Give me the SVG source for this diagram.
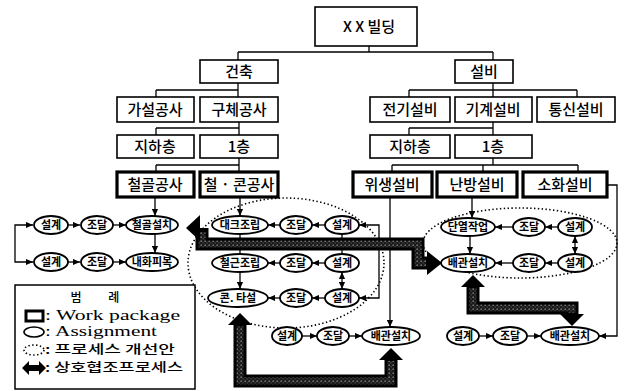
<svg xmlns="http://www.w3.org/2000/svg" width="628" height="391" viewBox="0 0 628 391">
  <style>
    .box { fill: #fff; stroke: #000; stroke-width: 1.6; }
    .wp { fill: #fff; stroke: #000; stroke-width: 3.2; }
    .as { fill: #fff; stroke: #000; stroke-width: 1.8; }
    .t { font-family: "Noto Sans CJK KR", "Noto Sans", sans-serif; font-size: 15px; font-weight: 500; text-anchor: middle; fill: #000; }
    .ta { font-family: "Noto Sans CJK KR", "Noto Sans", sans-serif; font-size: 11px; font-weight: 700; text-anchor: middle; fill: #000; }
    .ln { fill: none; stroke: #000; stroke-width: 1.3; }
    .arr { fill: none; stroke: #000; stroke-width: 1.3; marker-end: url(#ah); }
    .arr2 { fill: none; stroke: #000; stroke-width: 1.3; marker-start: url(#ah); marker-end: url(#ah); }
    .dot { fill: none; stroke: #000; stroke-width: 1.6; stroke-dasharray: 1.4 2.4; }
    .band { fill: none; stroke: #000; stroke-width: 13; stroke-linejoin: miter; }
    .bandin { fill: none; stroke: url(#tex); stroke-width: 7; stroke-linejoin: miter; }
    .head { fill: #000; }
    .leg { font-family: "Liberation Serif", serif; font-size: 14px; fill: #000; }
    .legk { font-family: "Noto Sans CJK KR", sans-serif; font-size: 12px; font-weight: 500; fill: #000; }
  </style>
  <defs>
    <marker id="ah" viewBox="0 0 8 8" refX="8" refY="4" markerWidth="7" markerHeight="7" markerUnits="userSpaceOnUse" orient="auto-start-reverse">
      <path d="M0,0.5 L8,4 L0,7.5 Z" fill="#000"/>
    </marker>
    <pattern id="tex" width="4" height="4" patternUnits="userSpaceOnUse">
      <rect width="4" height="4" fill="#1a1a1a"/>
      <rect x="0.5" y="0.5" width="1.4" height="1.4" fill="#8a8a8a"/>
      <rect x="2.6" y="2.4" width="1" height="1" fill="#666"/>
    </pattern>
  </defs>

  <rect width="628" height="391" fill="#fff"/>

  <!-- process improvement groupings (dotted) -->
  <g id="improvements">
    <ellipse class="dot" cx="286" cy="263" rx="98" ry="65"/>
    <ellipse class="dot" cx="520" cy="243" rx="97" ry="35"/>
  </g>

  <!-- connectors -->
  <g id="connectors">
    <!-- WBS tree -->
    <path class="ln" d="M369,46 V52 M238,52 H493 M238,52 V60 M493,52 V60"/>
    <path class="ln" d="M238,83 V97 M156,90 H238 M156,90 V97"/>
    <path class="ln" d="M493,83 V97 M409,90 H577 M409,90 V97 M577,90 V97"/>
    <path class="ln" d="M239,122 V135 M156,128 H239 M156,128 V135"/>
    <path class="ln" d="M493,122 V135 M409,128 H493 M409,128 V135"/>
    <path class="ln" d="M239,158 V172 M156,165 H239 M156,165 V172"/>
    <path class="ln" d="M493,158 V165 M392,165 H578 M392,165 V172 M483,165 V172 M578,165 V172"/>

    <!-- steel frame work -->
    <path class="arr" d="M155,197 V216"/>
    <path class="arr" d="M155,234 V253"/>
    <path class="arr2" d="M33,225 H15 V262 H33"/>
    <path class="arr" d="M68,225 H80"/>
    <path class="arr" d="M113,225 H126"/>
    <path class="arr" d="M68,262 H80"/>
    <path class="arr" d="M113,262 H126"/>

    <!-- steel / concrete work -->
    <path class="arr" d="M240,197 V216"/>
    <path class="ln" d="M240,234 V254"/>
    <path class="ln" d="M342,234 V254"/>
    <path class="arr" d="M240,272 V289"/>
    <path class="arr2" d="M342,272 V289"/>
    <path class="arr" d="M325,225 H312"/>
    <path class="arr" d="M280,225 H268"/>
    <path class="arr" d="M325,263 H312"/>
    <path class="arr" d="M280,263 H268"/>
    <path class="arr" d="M325,298 H312"/>
    <path class="arr" d="M280,298 H268"/>
    <path class="arr2" d="M359,225 H379 V298 H359"/>

    <!-- plumbing -->
    <path class="arr" d="M390,197 V327"/>
    <path class="arr" d="M302,336 H317"/>
    <path class="arr" d="M349,336 H362"/>

    <!-- heating -->
    <path class="arr" d="M472,197 V218"/>
    <path class="arr" d="M470,236 V254"/>
    <path class="arr2" d="M575,236 V254"/>
    <path class="arr" d="M558,227 H545"/>
    <path class="arr" d="M513,227 H495"/>
    <path class="arr" d="M558,263 H545"/>
    <path class="arr" d="M513,263 H495"/>

    <!-- fire protection -->
    <path class="arr" d="M607,185 H617 V336 H599"/>
    <path class="arr" d="M479,336 H493"/>
    <path class="arr" d="M527,336 H541"/>

    <!-- cooperative processes (thick) -->
    <path class="band" d="M202,228 V244 H418 V263 H428"/>
    <path class="bandin" d="M202,232 V244 H418 V263 H426"/>
    <polygon class="head" points="200,215 186,228 200,241"/>
    <polygon class="head" points="427,251 442,263 427,275"/>

    <path class="band" d="M240,324 V381 H391 V359"/>
    <path class="bandin" d="M240,326 V381 H391 V361"/>
    <polygon class="head" points="228,325 240,313 252,325"/>
    <polygon class="head" points="379,360 391,348 403,360"/>

    <path class="band" d="M473,286 V308 H572 V315"/>
    <path class="bandin" d="M473,288 V308 H572 V313"/>
    <polygon class="head" points="461,287 473,275 485,287"/>
    <polygon class="head" points="560,314 572,326 584,314"/>
  </g>

  <!-- WBS boxes -->
  <g id="n-root"><rect class="box" x="315" y="7" width="102" height="39"/><text class="t" x="369" y="32" font-size="16">X X 빌딩</text></g>
  <g id="n-arch"><rect class="box" x="200" y="60" width="78" height="23"/><text class="t" x="239" y="77">건축</text></g>
  <g id="n-mep"><rect class="box" x="455" y="60" width="58" height="23"/><text class="t" x="484" y="77">설비</text></g>
  <g id="n-temp"><rect class="box" x="117" y="97" width="77" height="25"/><text class="t" x="155" y="115">가설공사</text></g>
  <g id="n-struct"><rect class="box" x="200" y="97" width="78" height="25"/><text class="t" x="239" y="115">구체공사</text></g>
  <g id="n-elec"><rect class="box" x="370" y="97" width="80" height="25"/><text class="t" x="410" y="115">전기설비</text></g>
  <g id="n-mech"><rect class="box" x="455" y="97" width="77" height="25"/><text class="t" x="493" y="115">기계설비</text></g>
  <g id="n-comm"><rect class="box" x="537" y="97" width="78" height="25"/><text class="t" x="576" y="115">통신설비</text></g>
  <g id="n-b1-arch"><rect class="box" x="117" y="135" width="77" height="23"/><text class="t" x="155" y="152">지하층</text></g>
  <g id="n-f1-arch"><rect class="box" x="200" y="135" width="78" height="23"/><text class="t" x="239" y="152">1층</text></g>
  <g id="n-b1-mep"><rect class="box" x="370" y="135" width="80" height="23"/><text class="t" x="410" y="152">지하층</text></g>
  <g id="n-f1-mep"><rect class="box" x="455" y="135" width="77" height="23"/><text class="t" x="493" y="152">1층</text></g>

  <!-- work packages -->
  <g id="wp-steel"><rect class="wp" x="117" y="172" width="77" height="25"/><text class="t" x="155" y="190">철골공사</text></g>
  <g id="wp-rc"><rect class="wp" x="200" y="172" width="78" height="25"/><text class="t" x="239" y="190">철 · 콘공사</text></g>
  <g id="wp-plumb"><rect class="wp" x="353" y="172" width="79" height="25"/><text class="t" x="392" y="190">위생설비</text></g>
  <g id="wp-heat"><rect class="wp" x="437" y="172" width="80" height="25"/><text class="t" x="477" y="190">난방설비</text></g>
  <g id="wp-fire"><rect class="wp" x="523" y="172" width="84" height="25"/><text class="t" x="565" y="190">소화설비</text></g>

  <!-- assignments: steel frame -->
  <g id="a-s-design1"><ellipse class="as" cx="51" cy="225" rx="17" ry="9"/><text class="ta" x="51" y="229">설계</text></g>
  <g id="a-s-proc1"><ellipse class="as" cx="97" cy="225" rx="16" ry="9"/><text class="ta" x="97" y="229">조달</text></g>
  <g id="a-s-erect"><ellipse class="as" cx="152" cy="225" rx="26" ry="9"/><text class="ta" x="152" y="229">철골설치</text></g>
  <g id="a-s-design2"><ellipse class="as" cx="51" cy="262" rx="17" ry="9"/><text class="ta" x="51" y="266">설계</text></g>
  <g id="a-s-proc2"><ellipse class="as" cx="97" cy="262" rx="16" ry="9"/><text class="ta" x="97" y="266">조달</text></g>
  <g id="a-s-fireproof"><ellipse class="as" cx="152" cy="262" rx="26" ry="9"/><text class="ta" x="152" y="266">내화피복</text></g>

  <!-- assignments: steel / concrete -->
  <g id="a-rc-deck"><ellipse class="as" cx="240" cy="225" rx="28" ry="9"/><text class="ta" x="240" y="229">대크조립</text></g>
  <g id="a-rc-proc1"><ellipse class="as" cx="296" cy="225" rx="16" ry="9"/><text class="ta" x="296" y="229">조달</text></g>
  <g id="a-rc-design1"><ellipse class="as" cx="342" cy="225" rx="17" ry="9"/><text class="ta" x="342" y="229">설계</text></g>
  <g id="a-rc-rebar"><ellipse class="as" cx="240" cy="263" rx="28" ry="9"/><text class="ta" x="240" y="267">철근조립</text></g>
  <g id="a-rc-proc2"><ellipse class="as" cx="296" cy="263" rx="16" ry="9"/><text class="ta" x="296" y="267">조달</text></g>
  <g id="a-rc-design2"><ellipse class="as" cx="342" cy="263" rx="17" ry="9"/><text class="ta" x="342" y="267">설계</text></g>
  <g id="a-rc-pour"><ellipse class="as" cx="238" cy="298" rx="30" ry="9"/><text class="ta" x="238" y="302">콘. 타설</text></g>
  <g id="a-rc-proc3"><ellipse class="as" cx="296" cy="298" rx="16" ry="9"/><text class="ta" x="296" y="302">조달</text></g>
  <g id="a-rc-design3"><ellipse class="as" cx="342" cy="298" rx="17" ry="9"/><text class="ta" x="342" y="302">설계</text></g>

  <!-- assignments: plumbing -->
  <g id="a-p-design"><ellipse class="as" cx="287" cy="336" rx="15" ry="9"/><text class="ta" x="287" y="340">설계</text></g>
  <g id="a-p-proc"><ellipse class="as" cx="333" cy="336" rx="16" ry="9"/><text class="ta" x="333" y="340">조달</text></g>
  <g id="a-p-pipe"><ellipse class="as" cx="391" cy="336" rx="29" ry="9"/><text class="ta" x="391" y="340">배관설치</text></g>

  <!-- assignments: heating -->
  <g id="a-h-insul"><ellipse class="as" cx="468" cy="227" rx="27" ry="9"/><text class="ta" x="468" y="231">단열작업</text></g>
  <g id="a-h-proc1"><ellipse class="as" cx="529" cy="227" rx="16" ry="9"/><text class="ta" x="529" y="231">조달</text></g>
  <g id="a-h-design1"><ellipse class="as" cx="575" cy="227" rx="17" ry="9"/><text class="ta" x="575" y="231">설계</text></g>
  <g id="a-h-pipe"><ellipse class="as" cx="468" cy="263" rx="27" ry="9"/><text class="ta" x="468" y="267">배관설치</text></g>
  <g id="a-h-proc2"><ellipse class="as" cx="529" cy="263" rx="16" ry="9"/><text class="ta" x="529" y="267">조달</text></g>
  <g id="a-h-design2"><ellipse class="as" cx="575" cy="263" rx="17" ry="9"/><text class="ta" x="575" y="267">설계</text></g>

  <!-- assignments: fire protection -->
  <g id="a-f-design"><ellipse class="as" cx="463" cy="336" rx="16" ry="9"/><text class="ta" x="463" y="340">설계</text></g>
  <g id="a-f-proc"><ellipse class="as" cx="510" cy="336" rx="17" ry="9"/><text class="ta" x="510" y="340">조달</text></g>
  <g id="a-f-pipe"><ellipse class="as" cx="570" cy="336" rx="29" ry="9"/><text class="ta" x="570" y="340">배관설치</text></g>

  <!-- legend -->
  <g id="legend">
    <rect x="15" y="285" width="180" height="104" fill="#fff" stroke="#000" stroke-width="1.5"/>
    <text class="legk" x="95" y="302" text-anchor="middle" word-spacing="24" font-size="13">범 례</text>
    <rect x="26" y="311" width="17" height="10" fill="#fff" stroke="#000" stroke-width="3"/>
    <text class="leg" x="45" y="320" textLength="135" lengthAdjust="spacingAndGlyphs">: Work package</text>
    <ellipse cx="34" cy="332" rx="10" ry="5" fill="#fff" stroke="#000" stroke-width="1.6"/>
    <text class="leg" x="45" y="336" textLength="112" lengthAdjust="spacingAndGlyphs">: Assignment</text>
    <ellipse cx="34" cy="350" rx="10" ry="5" class="dot" stroke-width="1"/>
    <text class="legk" x="45" y="354" textLength="130" lengthAdjust="spacingAndGlyphs">: 프로세스 개선안</text>
    <polygon points="22,368 29,361 29,365 39,365 39,361 46,368 39,375 39,371 29,371 29,375" fill="#000"/>
    <text class="legk" x="45" y="372" textLength="138" lengthAdjust="spacingAndGlyphs">: 상호협조프로세스</text>
  </g>
</svg>
